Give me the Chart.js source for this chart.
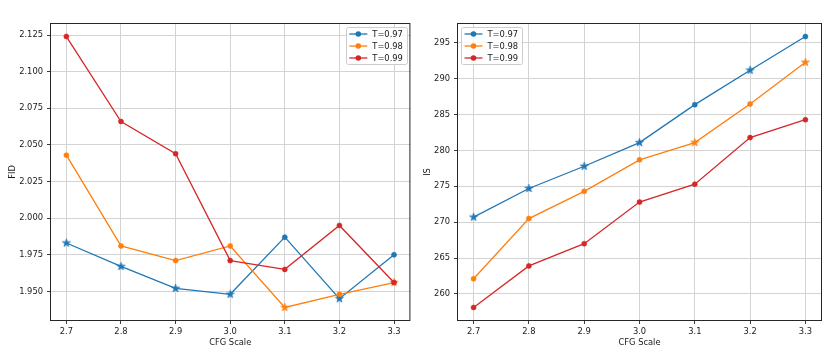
<!DOCTYPE html>
<html>
<head>
<meta charset="utf-8">
<script src="https://cdn.jsdelivr.net/npm/chart.js@4.4.1/dist/chart.umd.min.js"></script>
<style>
  html, body { margin: 0; padding: 0; background: #fff; }
  #wrap { position: relative; width: 830px; height: 356px; }
  #wrap canvas { position: absolute; top: 0; }
</style>
</head>
<body>
<div id="wrap">
  <canvas id="fidChart" width="415" height="356" style="left:0"></canvas>
  <canvas id="isChart" width="415" height="356" style="left:415px"></canvas>
</div>
<script>
var cfgScale = [2.7, 2.8, 2.9, 3.0, 3.1, 3.2, 3.3];
var seriesLabels = ['T=0.97', 'T=0.98', 'T=0.99'];

var fid097 = [1.983, 1.967, 1.952, 1.948, 1.987, 1.945, 1.975];
var fid098 = [2.043, 1.981, 1.971, 1.981, 1.939, 1.948, 1.956];
var fid099 = [2.124, 2.066, 2.044, 1.971, 1.965, 1.995, 1.956];

var is097 = [270.7, 274.7, 277.8, 281.1, 286.4, 291.2, 295.9];
var is098 = [262.1, 270.5, 274.3, 278.7, 281.1, 286.5, 292.3];
var is099 = [258.1, 263.9, 267.0, 272.8, 275.3, 281.8, 284.3];

// marker per point: '*' star, 'o' circle
var marks097 = ['*', '*', '*', '*', 'o', '*', 'o'];
var marks098 = ['o', 'o', 'o', 'o', '*', 'o', '*'];
var marks099 = ['o', 'o', 'o', 'o', 'o', 'o', 'o'];

var xTicks = [2.7, 2.8, 2.9, 3.0, 3.1, 3.2, 3.3];
var fidTicks = [1.950, 1.975, 2.000, 2.025, 2.050, 2.075, 2.100, 2.125];
var isTicks = [260, 265, 270, 275, 280, 285, 290, 295];

var colors = ['#1f77b4', '#ff7f0e', '#d62728'];
var FONT = { family: '"DejaVu Sans", sans-serif', size: 8.33 };
var TEXT = '#1a1a1a';

function starImage(color) {
    var r = 4.3, size = 11;
    var c = document.createElement('canvas');
    c.width = size; c.height = size;
    var ctx = c.getContext('2d');
    ctx.translate(size / 2, size / 2);
    ctx.beginPath();
    for (var i = 0; i < 10; i++) {
        var rad = i % 2 === 0 ? r : r * 0.382;
        var ang = -Math.PI / 2 + i * Math.PI / 5;
        ctx.lineTo(rad * Math.cos(ang), rad * Math.sin(ang));
    }
    ctx.closePath();
    ctx.fillStyle = color;
    ctx.fill();
    ctx.lineWidth = 0.7;
    ctx.strokeStyle = color;
    ctx.stroke();
    return c;
}

function makeDataset(i, values, marks) {
    var color = colors[i];
    var star = starImage(color);
    return {
        label: seriesLabels[i],
        data: cfgScale.map(function (x, k) { return { x: x, y: values[k] }; }),
        borderColor: color,
        backgroundColor: color,
        borderWidth: 1.3,
        pointStyle: marks.map(function (m) { return m === '*' ? star : 'circle'; }),
        pointRadius: 2.5,
        pointBorderWidth: 0.6,
        pointBackgroundColor: color,
        pointBorderColor: color,
        order: 3 - i,
        tension: 0
    };
}

function padRange(arrs) {
    var all = [].concat.apply([], arrs);
    var lo = Math.min.apply(null, all), hi = Math.max.apply(null, all);
    var m = (hi - lo) * 0.05;
    return [lo - m, hi + m];
}

var framePlugin = {
    id: 'frame',
    afterDatasetsDraw: function (chart) {
        var a = chart.chartArea, ctx = chart.ctx;
        ctx.save();
        ctx.strokeStyle = '#262626';
        ctx.lineWidth = 1;
        ctx.strokeRect(a.left + 0.5, a.top + 0.5, a.right - a.left - 1, a.bottom - a.top - 1);
        ctx.restore();
    }
};

var legendPlugin = {
    id: 'mplLegend',
    afterDraw: function (chart, args, opts) {
        var ctx = chart.ctx, a = chart.chartArea;
        var sets = chart.data.datasets;
        ctx.save();
        ctx.font = FONT.size + 'px ' + FONT.family;
        var textW = Math.max.apply(null, sets.map(function (d) { return ctx.measureText(d.label).width; }));
        var w = 3.5 + 18 + 5 + textW + 3.5, h = 37;
        var x = opts.corner === 'right' ? a.right - 4 - w : a.left + 4;
        var y = a.top + 4;
        ctx.beginPath();
        ctx.roundRect(Math.round(x) + 0.5, Math.round(y) + 0.5, Math.round(w), h, 2);
        ctx.fillStyle = 'rgba(255,255,255,0.8)';
        ctx.fill();
        ctx.strokeStyle = '#cccccc';
        ctx.lineWidth = 1;
        ctx.stroke();
        sets.forEach(function (d, i) {
            var cy = y + 7 + i * 12;
            ctx.strokeStyle = d.borderColor;
            ctx.lineWidth = 1.3;
            ctx.beginPath();
            ctx.moveTo(x + 3.5, cy);
            ctx.lineTo(x + 21.5, cy);
            ctx.stroke();
            ctx.beginPath();
            ctx.arc(x + 12.5, cy, 2.8, 0, Math.PI * 2);
            ctx.fillStyle = d.borderColor;
            ctx.fill();
            ctx.fillStyle = TEXT;
            ctx.textBaseline = 'middle';
            ctx.textAlign = 'left';
            ctx.fillText(d.label, x + 26.5, cy + 0.5);
        });
        ctx.restore();
    }
};

function makeChart(id, datasets, yTicks, yTitle, yDigits, yWidth, padRight, corner, yRange) {
    var xRange = padRange([cfgScale]);
    return new Chart(document.getElementById(id), {
        type: 'line',
        data: { datasets: datasets },
        plugins: [framePlugin, legendPlugin],
        options: {
            responsive: false,
            animation: false,
            events: [],
            layout: { padding: { top: 23, right: padRight, left: 0, bottom: 0 } },
            plugins: {
                legend: { display: false },
                tooltip: { enabled: false },
                mplLegend: { corner: corner }
            },
            scales: {
                x: {
                    type: 'linear',
                    min: xRange[0],
                    max: xRange[1],
                    afterBuildTicks: function (s) { s.ticks = xTicks.map(function (v) { return { value: v }; }); },
                    afterFit: function (s) { s.height = 35; },
                    ticks: {
                        callback: function (v) { return v.toFixed(1); },
                        font: FONT, color: TEXT, padding: 3, maxRotation: 0, autoSkip: false
                    },
                    grid: { color: '#d3d3d3', lineWidth: 1, drawTicks: true, tickLength: 3, tickColor: '#262626', tickWidth: 0.9 },
                    border: { display: false },
                    title: { display: true, text: 'CFG Scale', font: FONT, color: TEXT, padding: { top: 0, bottom: 8 } }
                },
                y: {
                    type: 'linear',
                    min: yRange[0],
                    max: yRange[1],
                    afterBuildTicks: function (s) { s.ticks = yTicks.map(function (v) { return { value: v }; }); },
                    afterFit: function (s) { s.width = yWidth; },
                    ticks: {
                        callback: function (v) { return v.toFixed(yDigits); },
                        font: FONT, color: TEXT, padding: 4, autoSkip: false
                    },
                    grid: { color: '#d3d3d3', lineWidth: 1, drawTicks: true, tickLength: 3, tickColor: '#262626', tickWidth: 0.9 },
                    border: { display: false },
                    title: { display: true, text: yTitle, font: FONT, color: TEXT, padding: { top: 8, bottom: 0 } }
                }
            }
        }
    });
}

makeChart('fidChart', [
    makeDataset(0, fid097, marks097),
    makeDataset(1, fid098, marks098),
    makeDataset(2, fid099, marks099)
], fidTicks, 'FID', 3, 50, 1, 'right', padRange([fid097, fid098, fid099]));

makeChart('isChart', [
    makeDataset(0, is097, marks097),
    makeDataset(1, is098, marks098),
    makeDataset(2, is099, marks099)
], isTicks, 'IS', 0, 42, 8, 'left', padRange([is097, is098, is099]));
</script>
</body>
</html>
